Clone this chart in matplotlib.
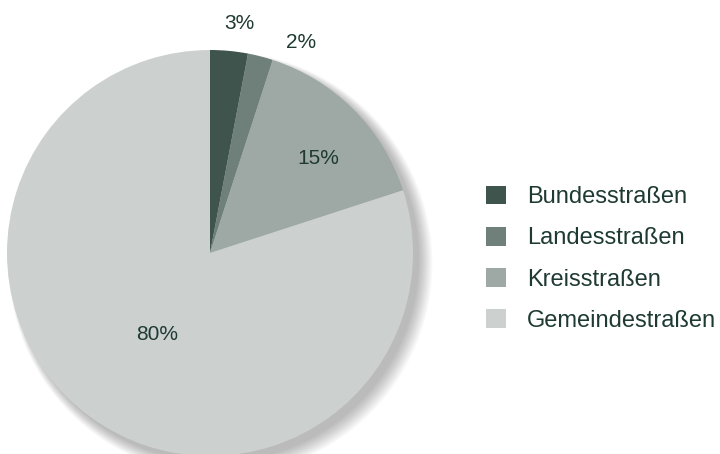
import matplotlib.pyplot as plt
import matplotlib.patches as mpatches
import numpy as np

plt.rcParams["font.family"] = ["Liberation Sans", "DejaVu Sans"]

# Daten
kategorien = ["Bundesstraßen", "Landesstraßen", "Kreisstraßen", "Gemeindestraßen"]
anteile = [3, 2, 15, 80]
labels = ["3%", "2%", "15%", "80%"]

farben = ["#3f544d", "#6f7f79", "#9ea8a4", "#ccd0cf"]
textfarbe = "#1e3a32"

fig = plt.figure(figsize=(7.2, 4.54), dpi=100)
ax = fig.add_axes([7 / 720, -2 / 454, 406 / 720, 406 / 454])

# weicher Schatten unten rechts
for k in range(12):
    ax.add_patch(mpatches.Circle((0.03 + k * 0.002, -0.03 - k * 0.002), 1.0 + k * 0.004,
                                 color="black", alpha=0.025, lw=0, clip_on=False, zorder=0))

wedges, _ = ax.pie(anteile, colors=farben, startangle=90, counterclock=False,
                   radius=1.0, wedgeprops=dict(linewidth=0))
for w in wedges:
    w.set_zorder(2)

# Beschriftungen: Abstand vom Zentrum und Winkelversatz je Segment
abstand = [1.14, 1.13, 0.71, 0.48]
versatz = [-1.8, -9, -4, 3]
for w, lab, r, dv in zip(wedges, labels, abstand, versatz):
    ang = np.deg2rad((w.theta1 + w.theta2) / 2 + dv)
    ax.text(r * np.cos(ang), r * np.sin(ang), lab, ha="center", va="center",
            fontsize=15, color=textfarbe, zorder=3)

ax.set_xlim(-1, 1)
ax.set_ylim(-1, 1)
ax.set_aspect("equal")
ax.axis("off")

leg = fig.legend(wedges, kategorien, loc="center left", bbox_to_anchor=(0.6456, 0.43),
                 frameon=False, fontsize=17, handlelength=0.83, handleheight=0.83,
                 handletextpad=0.91, labelspacing=0.79, labelcolor=textfarbe)

fig.savefig("out.png", dpi=100)
